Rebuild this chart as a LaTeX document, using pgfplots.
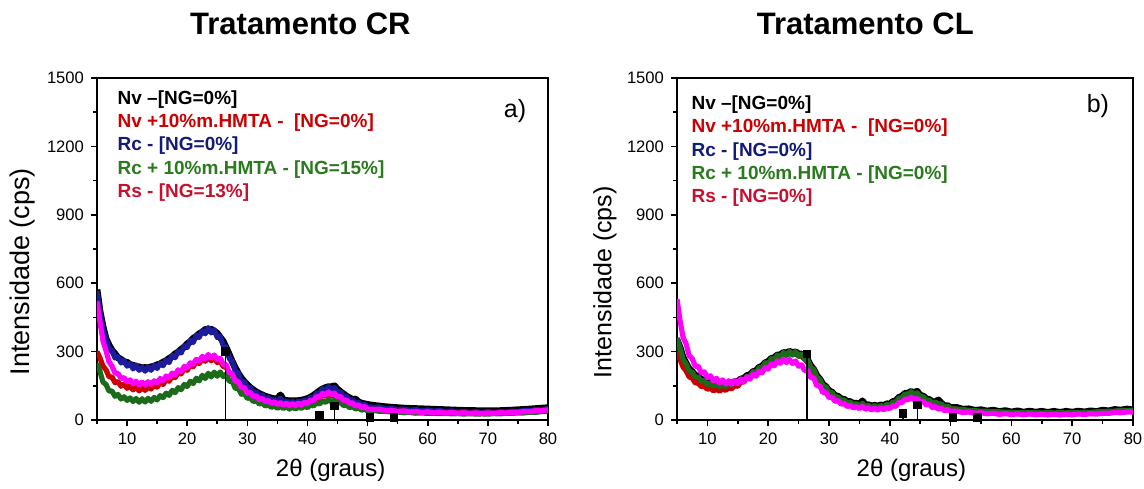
\documentclass[border=0pt]{standalone}
\usepackage{fontspec}
\setmainfont{Liberation Sans}
\usepackage{pgfplots}
\usepackage{pgfplotstable}
\pgfplotsset{compat=1.18}
\definecolor{cblue}{HTML}{1C1C9C}
\definecolor{cred}{HTML}{CC0000}
\definecolor{cgreen}{HTML}{1B6B1B}
\definecolor{cmag}{HTML}{FF00FF}
\definecolor{tred}{HTML}{CC0000}
\definecolor{tblue}{HTML}{141A78}
\definecolor{tgreen}{HTML}{2A7A1E}
\definecolor{tcrim}{HTML}{C8102E}

% x nv nvh rc rch rs  (Tratamento CR)
\pgfplotstableread{
x nv nvh rc rch rs
5 572 300 565 250 520
5.5 476 272 472 212 430
6 410 236 398 166 346
6.5 356 220 356 156 304
7 328 190 314 127 256
7.5 305 188 305 127 236
8 290 164 272 104 206
8.5 273 168 278 112 204
9 266 148 250 92 182
9.5 255 158 262 102 186
10 253 139 236 86 168
10.5 243 150 248 97 176
11 240 132 224 81 160
11.5 235 144 241 94 170
12 233 128 218 78 155
12.5 229 142 232 93 166
13 230 130 214 79 154
13.5 229 145 233 95 168
14 233 136 218 82 157
14.5 236 152 240 99 172
15 242 144 226 88 163
15.5 246 164 250 107 182
16 254 156 238 98 173
16.5 260 177 263 118 193
17 270 170 252 108 185
17.5 278 192 283 130 206
18 290 186 273 120 199
18.5 298 208 302 142 220
19 310 202 294 133 213
19.5 320 224 326 156 235
20 334 218 318 147 229
20.5 343 240 350 170 251
21 358 234 340 160 245
21.5 366 255 372 183 266
22 378 248 362 172 259
22.5 386 268 392 196 279
23 397 258 378 182 269
23.5 398 274 405 205 287
24 398 260 382 189 272
24.5 390 272 396 210 285
25 380 252 362 192 264
25.5 362 258 366 211 271
26 344 234 326 190 244
26.5 316 232 318 202 243
27 287 202 270 170 208
27.5 256 201 258 170 203
28 229 168 214 138 170
28.5 204 162 205 140 169
29 184 138 170 113 141
29.5 168 136 168 116 143
30 154 115 142 95 118
30.5 142 115 142 98 122
31 132 99 120 81 102
31.5 123 100 123 85 106
32 116 86 104 70 89
32.5 110 89 110 75 95
33 104 77 93 61 80
33.5 100 80 99 68 86
34 96 70 85 55 73
34.5 93 74 92 63 80
35 92 65 80 51 68
35.5 110 72 96 60 77
36 88 62 78 50 65
36.5 86 68 84 59 74
37 84 60 73 48 63
37.5 84 67 82 58 73
38 84 60 73 48 63
38.5 85 67 84 58 74
39 87 62 76 51 65
39.5 90 71 89 61 78
40 94 68 83 54 72
40.5 100 80 99 67 87
41 108 79 96 61 84
41.5 118 96 118 76 103
42 128 94 116 70 100
42.5 136 110 137 84 117
43 142 104 130 77 110
43.5 146 116 146 89 123
44 146 105 134 79 111
44.5 150 111 142 88 118
45 134 95 122 73 101
45.5 124 98 124 78 104
46 114 80 102 63 85
46.5 105 82 104 66 88
47 97 67 86 54 72
47.5 90 70 89 59 76
48 92 56 74 48 61
48.5 79 61 77 54 67
49 74 49 64 43 53
49.5 71 55 69 48 60
50 68 45 58 40 48
51 64 47 56 42 46
52 61 46 57 38 47
53 58 42 50 38 41
54 56 41 52 35 43
55 54 38 46 35 37
56 52 39 48 32 40
57 51 36 43 33 35
58 50 37 46 30 38
59 49 34 41 31 33
60 48 35 44 29 36
61 47 32 39 30 32
62 46 33 42 28 35
63 45 31 37 29 30
64 44 32 40 27 33
65 43 29 35 28 29
66 42 31 38 26 32
67 42 29 34 28 28
68 41 30 37 26 31
69 41 28 33 27 28
70 41 30 37 26 31
71 41 29 33 28 29
72 41 31 37 27 32
73 42 30 35 29 31
74 43 33 39 29 34
75 45 33 37 31 34
76 46 36 42 31 37
77 48 36 40 34 37
78 50 40 46 34 41
79 52 40 44 37 41
80 54 44 50 38 45
}\tabCR

% x nv nvh rc rch rs  (Tratamento CL)
\pgfplotstableread{
x nv nvh rc rch rs
5 352 300 335 360 530
5.5 318 266 305 316 436
6 274 232 262 266 362
6.5 248 216 238 246 334
7 224 189 216 215 282
7.5 212 184 200 210 270
8 196 163 188 188 236
8.5 190 162 180 188 236
9 178 146 170 170 206
9.5 175 148 164 173 211
10 165 135 157 156 186
10.5 165 139 155 163 194
11 157 128 150 149 172
11.5 160 135 149 160 183
12 154 126 148 146 163
12.5 159 137 148 158 176
13 155 130 149 147 158
13.5 162 141 152 160 172
14 160 137 154 152 157
14.5 169 150 159 167 173
15 169 148 163 160 160
15.5 180 167 170 180 180
16 182 166 176 172 168
16.5 195 188 184 193 189
17 198 192 192 189 179
17.5 212 202 201 212 201
18 216 211 210 206 192
18.5 231 222 220 230 214
19 236 231 230 226 207
19.5 251 242 240 251 230
20 256 251 250 245 223
20.5 270 261 259 269 246
21 273 268 267 262 238
21.5 285 277 274 285 259
22 286 281 280 275 249
22.5 296 288 285 296 267
23 294 289 288 283 252
23.5 301 292 290 301 266
24 296 291 290 285 248
24.5 299 289 288 300 259
25 290 285 284 279 236
25.5 289 279 278 290 242
26 274 269 268 265 216
26.5 263 253 252 263 218
27 238 233 232 228 186
27.5 221 211 210 222 184
28 194 189 188 184 150
28.5 179 169 168 180 150
29 156 151 150 146 120
29.5 146 136 135 146 122
30 128 123 122 120 98
30.5 122 112 111 121 100
31 107 102 101 99 82
31.5 104 94 93 102 85
32 92 87 86 84 69
32.5 91 81 80 89 74
33 80 75 74 73 59
33.5 81 71 70 79 65
34 72 67 66 65 53
34.5 74 64 63 72 59
35 67 62 61 60 50
35.5 84 66 64 73 60
36 64 59 58 57 47
36.5 67 57 56 65 54
37 61 56 55 54 44
37.5 65 55 54 64 52
38 60 55 54 53 43
38.5 66 56 55 64 52
39 63 58 57 56 45
39.5 71 61 60 69 56
40 70 65 64 62 50
40.5 81 71 70 79 63
41 84 79 78 76 60
41.5 99 89 88 97 78
42 104 99 98 96 76
42.5 117 107 106 115 93
43 118 113 112 110 88
43.5 125 115 114 124 100
44 119 114 113 111 89
44.5 126 110 109 119 95
45 108 103 102 100 79
45.5 105 95 94 103 82
46 92 87 86 84 66
46.5 90 80 79 88 69
47 79 74 73 71 54
47.5 80 70 69 79 59
48 88 72 70 68 48
48.5 73 63 62 71 52
49 62 57 56 55 41
49.5 63 53 52 61 46
50 55 50 49 48 37
51 55 46 45 48 39
52 47 42 41 46 33
53 49 40 39 42 35
54 42 37 36 41 29
55 45 36 35 38 32
56 39 34 33 38 27
57 43 34 33 36 30
58 37 32 31 36 25
59 41 32 31 34 28
60 35 30 29 34 24
61 40 31 30 33 27
62 34 30 29 33 23
63 39 30 29 32 27
64 34 29 28 33 23
65 38 29 28 31 26
66 33 28 27 32 22
67 38 29 28 31 26
68 33 28 27 32 22
69 38 29 28 31 26
70 34 29 28 33 23
71 39 30 29 32 27
72 35 30 29 34 24
73 40 31 30 33 28
74 37 32 31 36 26
75 43 34 33 36 30
76 40 35 34 39 29
77 46 37 36 39 33
78 43 38 37 42 32
79 48 39 38 41 35
80 44 40 39 43 35
}\tabCL

\pgfplotstableread{
x y
26.4 300
42.0 22
44.5 62
50.4 12
54.4 12
}\refCR
\pgfplotstableread{
x y
26.4 290
42.2 28
44.6 65
50.4 12
54.4 12
}\refCL

\pgfplotsset{
  xrd/.style={
    scale only axis, width=225.5pt, height=171pt,
    xmin=5, xmax=80, ymin=0, ymax=1500,
    xtick={10,20,...,80}, ytick={0,300,...,1500},
    minor xtick={5,15,...,75}, minor ytick={150,450,...,1350},
    tick align=outside, tick pos=left,
    major tick length=3pt, minor tick length=1.8pt,
    axis line style={line width=1.3pt},
    every tick/.style={black, line width=0.8pt},
    tick label style={font=\fontsize{8.3}{10}\selectfont},
    /pgf/number format/assume math mode=true,
    /pgf/number format/set thousands separator={},
    scaled ticks=false,
    clip mode=individual,
  },
  curve/.style={line width=2.6pt, line join=round},
}

\begin{document}
\begin{tikzpicture}
\useasboundingbox (-48.5pt,-34pt) rectangle (523.5pt,210pt);
% ---------------- Left: Tratamento CR
\begin{axis}[xrd, at={(0pt,0pt)}, anchor=south west,
  title={\bfseries Tratamento CR},
  title style={at={(0.451,1.158)}, anchor=center, yshift=-6pt, font=\fontsize{15.5}{18}\selectfont},
  xlabel={2θ (graus)},
  xlabel style={at={(0.518,-0.147)}, anchor=center, font=\fontsize{12}{14}\selectfont},
  ylabel={Intensidade (cps)},
  ylabel style={at={(-0.166,0.433)}, anchor=center, font=\fontsize{13.5}{16}\selectfont},
]
\addplot[curve, black, line width=3.4pt] table[x=x, y=nv] {\tabCR};
\addplot[curve, cblue] table[x=x, y=rc] {\tabCR};
\addplot[curve, cred] table[x=x, y=nvh] {\tabCR};
\addplot[curve, cgreen] table[x=x, y=rch] {\tabCR};
\addplot[curve, cmag] table[x=x, y=rs] {\tabCR};
\addplot[ycomb, black, line width=0.7pt, mark=square*, mark size=1.8pt] table[x=x, y=y] {\refCR};
\node[anchor=north west, align=left, inner sep=0pt,
      font=\bfseries\fontsize{9.5}{11.7}\selectfont] at (rel axis cs:0.045,0.965)
 {\textcolor{black}{Nv –[NG=0\%]}\\
  \textcolor{tred}{Nv +10\%m.HMTA -~~[NG=0\%]}\\
  \textcolor{tblue}{Rc - [NG=0\%]}\\
  \textcolor{tgreen}{Rc + 10\%m.HMTA - [NG=15\%]}\\
  \textcolor{tcrim}{Rs - [NG=13\%]}};
\node[font=\fontsize{12.5}{14}\selectfont] at (rel axis cs:0.927,0.903) {a)};
\end{axis}
% ---------------- Right: Tratamento CL
\begin{axis}[xrd, at={(290pt,0pt)}, anchor=south west, width=228pt,
  title={\bfseries Tratamento CL},
  title style={at={(0.413,1.158)}, anchor=center, yshift=-6pt, font=\fontsize{15.5}{18}\selectfont},
  xlabel={2θ (graus)},
  xlabel style={at={(0.514,-0.147)}, anchor=center, font=\fontsize{12}{14}\selectfont},
  ylabel={Intensidade (cps)},
  ylabel style={at={(-0.158,0.403)}, anchor=center, font=\fontsize{12.5}{15}\selectfont},
]
\addplot[curve, black, line width=3.4pt] table[x=x, y=nv] {\tabCL};
\addplot[curve, cblue] table[x=x, y=rc] {\tabCL};
\addplot[curve, cred] table[x=x, y=nvh] {\tabCL};
\addplot[curve, cgreen] table[x=x, y=rch] {\tabCL};
\addplot[curve, cmag] table[x=x, y=rs] {\tabCL};
\addplot[ycomb, black, line width=0.7pt, mark=square*, mark size=1.8pt] table[x=x, y=y] {\refCL};
\node[anchor=north west, align=left, inner sep=0pt,
      font=\bfseries\fontsize{9.5}{11.7}\selectfont] at (rel axis cs:0.031,0.95)
 {\textcolor{black}{Nv –[NG=0\%]}\\
  \textcolor{tred}{Nv +10\%m.HMTA -~~[NG=0\%]}\\
  \textcolor{tblue}{Rc - [NG=0\%]}\\
  \textcolor{tgreen}{Rc + 10\%m.HMTA - [NG=0\%]}\\
  \textcolor{tcrim}{Rs - [NG=0\%]}};
\node[font=\fontsize{12.5}{14}\selectfont] at (rel axis cs:0.923,0.918) {b)};
\end{axis}
\end{tikzpicture}
\end{document}
